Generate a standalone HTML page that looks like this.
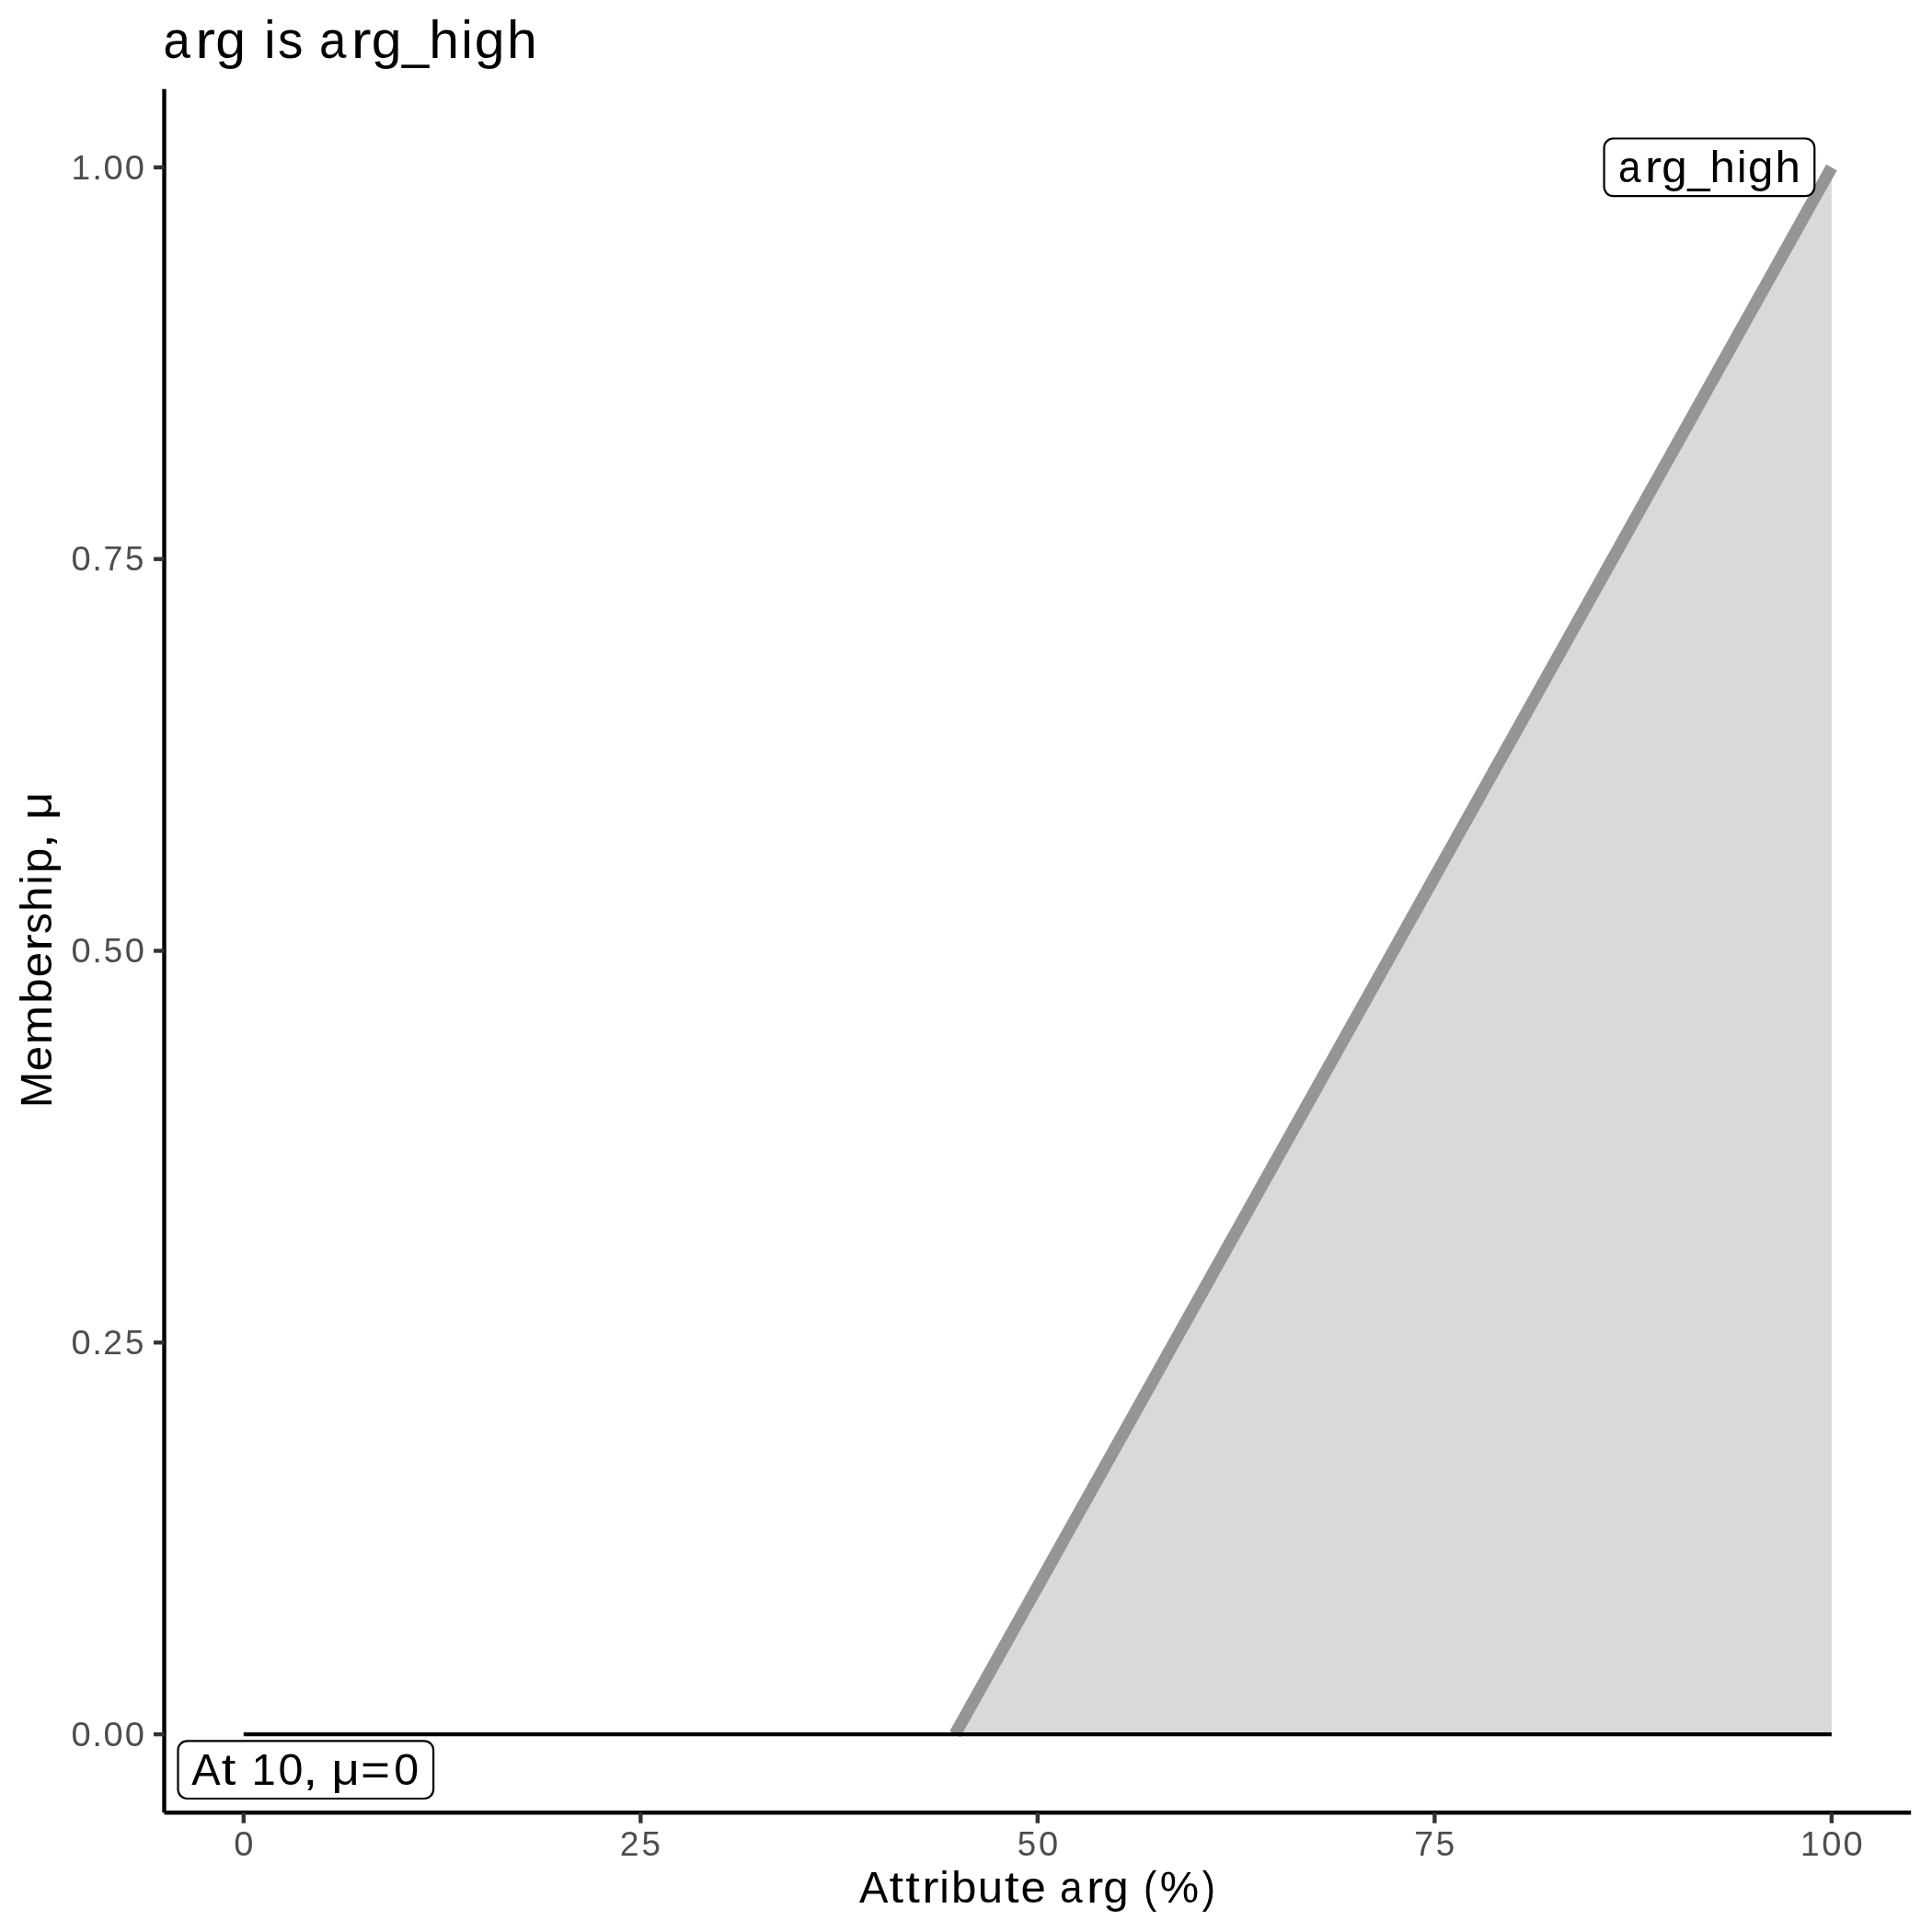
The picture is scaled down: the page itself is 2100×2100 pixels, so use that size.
<!DOCTYPE html>
<html><head><meta charset="utf-8">
<style>
html,body{margin:0;padding:0;background:#FFFFFF;}
svg{display:block;}
text{font-family:"Liberation Sans", sans-serif;}
svg{will-change:transform;}
</style></head><body>
<svg width="2100" height="2100" viewBox="0 0 2100 2100">
<rect x="0" y="0" width="2100" height="2100" fill="#FFFFFF"/>
<polygon points="1038.05,1885.10 1990.90,181.90 1990.90,1885.10" fill="#D9D9D9"/>
<line x1="1038.05" y1="1885.10" x2="1990.90" y2="181.90" stroke="#959595" stroke-width="13.3" stroke-linecap="butt"/>
<line x1="264.80" y1="1885.10" x2="1990.90" y2="1885.10" stroke="#000000" stroke-width="4.4" stroke-linecap="butt"/>
<rect x="1743.60" y="150.50" width="228.70" height="62.60" rx="10" ry="10" fill="#FFFFFF" stroke="#000000" stroke-width="2.2"/>
<text transform="translate(1758.85,198.30)" y="0" font-size="48.56" fill="#000000"><tspan x="0.12" textLength="24.56" lengthAdjust="spacingAndGlyphs">a</tspan><tspan x="29.13" textLength="18.20" lengthAdjust="spacingAndGlyphs">r</tspan><tspan x="47.50" textLength="27.42" lengthAdjust="spacingAndGlyphs">g</tspan><tspan x="75.34" textLength="24.44" lengthAdjust="spacingAndGlyphs">_</tspan><tspan x="99.78" textLength="27.41" lengthAdjust="spacingAndGlyphs">h</tspan><tspan x="129.09" textLength="10.56" lengthAdjust="spacingAndGlyphs">i</tspan><tspan x="141.28" textLength="27.42" lengthAdjust="spacingAndGlyphs">g</tspan><tspan x="170.65" textLength="27.41" lengthAdjust="spacingAndGlyphs">h</tspan></text>
<rect x="193.50" y="1892.30" width="277.60" height="62.70" rx="10" ry="10" fill="#FFFFFF" stroke="#000000" stroke-width="2.2"/>
<text transform="translate(208.34,1939.80)" y="0" font-size="48.56" fill="#000000"><tspan x="-0.05" textLength="31.43" lengthAdjust="spacingAndGlyphs">A</tspan><tspan x="32.38" textLength="15.61" lengthAdjust="spacingAndGlyphs">t</tspan><tspan x="49.32"> </tspan><tspan x="65.13" textLength="26.20" lengthAdjust="spacingAndGlyphs">1</tspan><tspan x="94.15" textLength="26.92" lengthAdjust="spacingAndGlyphs">0</tspan><tspan x="120.75" textLength="16.53" lengthAdjust="spacingAndGlyphs">,</tspan><tspan x="136.77"> </tspan><tspan x="152.28" textLength="30.36" lengthAdjust="spacingAndGlyphs">μ</tspan><tspan x="183.70" textLength="32.03" lengthAdjust="spacingAndGlyphs">=</tspan><tspan x="220.01" textLength="26.92" lengthAdjust="spacingAndGlyphs">0</tspan></text>
<line x1="178.50" y1="96.74" x2="178.50" y2="1970.26" stroke="#000000" stroke-width="4.4" stroke-linecap="butt"/>
<line x1="178.50" y1="1970.26" x2="2077.20" y2="1970.26" stroke="#000000" stroke-width="4.4" stroke-linecap="butt"/>
<line x1="167.03" y1="1885.10" x2="178.50" y2="1885.10" stroke="#333333" stroke-width="4.4"/>
<text transform="translate(76.45,1898.00)" y="0" font-size="37.30" fill="#4D4D4D"><tspan x="1.06" textLength="21.20" lengthAdjust="spacingAndGlyphs">0</tspan><tspan x="23.76" textLength="10.76" lengthAdjust="spacingAndGlyphs">.</tspan><tspan x="36.04" textLength="21.20" lengthAdjust="spacingAndGlyphs">0</tspan><tspan x="59.38" textLength="21.20" lengthAdjust="spacingAndGlyphs">0</tspan></text>
<line x1="167.03" y1="1459.30" x2="178.50" y2="1459.30" stroke="#333333" stroke-width="4.4"/>
<text transform="translate(76.45,1472.00)" y="0" font-size="37.30" fill="#4D4D4D"><tspan x="1.06" textLength="21.20" lengthAdjust="spacingAndGlyphs">0</tspan><tspan x="23.76" textLength="10.76" lengthAdjust="spacingAndGlyphs">.</tspan><tspan x="35.79" textLength="20.73" lengthAdjust="spacingAndGlyphs">2</tspan><tspan x="59.60" textLength="20.47" lengthAdjust="spacingAndGlyphs">5</tspan></text>
<line x1="167.03" y1="1033.50" x2="178.50" y2="1033.50" stroke="#333333" stroke-width="4.4"/>
<text transform="translate(76.45,1046.00)" y="0" font-size="37.30" fill="#4D4D4D"><tspan x="1.06" textLength="21.20" lengthAdjust="spacingAndGlyphs">0</tspan><tspan x="23.76" textLength="10.76" lengthAdjust="spacingAndGlyphs">.</tspan><tspan x="36.26" textLength="20.47" lengthAdjust="spacingAndGlyphs">5</tspan><tspan x="59.38" textLength="21.20" lengthAdjust="spacingAndGlyphs">0</tspan></text>
<line x1="167.03" y1="607.70" x2="178.50" y2="607.70" stroke="#333333" stroke-width="4.4"/>
<text transform="translate(76.45,620.00)" y="0" font-size="37.30" fill="#4D4D4D"><tspan x="1.06" textLength="21.20" lengthAdjust="spacingAndGlyphs">0</tspan><tspan x="23.76" textLength="10.76" lengthAdjust="spacingAndGlyphs">.</tspan><tspan x="36.11" textLength="20.92" lengthAdjust="spacingAndGlyphs">7</tspan><tspan x="59.60" textLength="20.47" lengthAdjust="spacingAndGlyphs">5</tspan></text>
<line x1="167.03" y1="181.90" x2="178.50" y2="181.90" stroke="#333333" stroke-width="4.4"/>
<text transform="translate(76.45,195.00)" y="0" font-size="37.30" fill="#4D4D4D"><tspan x="1.17" textLength="20.62" lengthAdjust="spacingAndGlyphs">1</tspan><tspan x="23.76" textLength="10.76" lengthAdjust="spacingAndGlyphs">.</tspan><tspan x="36.04" textLength="21.20" lengthAdjust="spacingAndGlyphs">0</tspan><tspan x="59.38" textLength="21.20" lengthAdjust="spacingAndGlyphs">0</tspan></text>
<line x1="264.80" y1="1970.26" x2="264.80" y2="1981.72" stroke="#333333" stroke-width="4.4"/>
<text transform="translate(253.13,2017.00)" y="0" font-size="37.30" fill="#4D4D4D"><tspan x="1.06" textLength="21.20" lengthAdjust="spacingAndGlyphs">0</tspan></text>
<line x1="696.33" y1="1970.26" x2="696.33" y2="1981.72" stroke="#333333" stroke-width="4.4"/>
<text transform="translate(672.99,2017.00)" y="0" font-size="37.30" fill="#4D4D4D"><tspan x="0.81" textLength="20.73" lengthAdjust="spacingAndGlyphs">2</tspan><tspan x="24.61" textLength="20.47" lengthAdjust="spacingAndGlyphs">5</tspan></text>
<line x1="1127.85" y1="1970.26" x2="1127.85" y2="1981.72" stroke="#333333" stroke-width="4.4"/>
<text transform="translate(1104.52,2017.00)" y="0" font-size="37.30" fill="#4D4D4D"><tspan x="1.28" textLength="20.47" lengthAdjust="spacingAndGlyphs">5</tspan><tspan x="24.39" textLength="21.20" lengthAdjust="spacingAndGlyphs">0</tspan></text>
<line x1="1559.38" y1="1970.26" x2="1559.38" y2="1981.72" stroke="#333333" stroke-width="4.4"/>
<text transform="translate(1536.04,2017.00)" y="0" font-size="37.30" fill="#4D4D4D"><tspan x="1.13" textLength="20.92" lengthAdjust="spacingAndGlyphs">7</tspan><tspan x="24.61" textLength="20.47" lengthAdjust="spacingAndGlyphs">5</tspan></text>
<line x1="1990.90" y1="1970.26" x2="1990.90" y2="1981.72" stroke="#333333" stroke-width="4.4"/>
<text transform="translate(1955.90,2017.00)" y="0" font-size="37.30" fill="#4D4D4D"><tspan x="1.17" textLength="20.62" lengthAdjust="spacingAndGlyphs">1</tspan><tspan x="24.39" textLength="21.20" lengthAdjust="spacingAndGlyphs">0</tspan><tspan x="47.72" textLength="21.20" lengthAdjust="spacingAndGlyphs">0</tspan></text>
<text transform="translate(177.41,62.70)" y="0" font-size="58.07" fill="#000000"><tspan x="0.15" textLength="29.36" lengthAdjust="spacingAndGlyphs">a</tspan><tspan x="34.83" textLength="21.76" lengthAdjust="spacingAndGlyphs">r</tspan><tspan x="56.79" textLength="32.79" lengthAdjust="spacingAndGlyphs">g</tspan><tspan x="90.90"> </tspan><tspan x="109.64" textLength="12.63" lengthAdjust="spacingAndGlyphs">i</tspan><tspan x="124.50" textLength="27.37" lengthAdjust="spacingAndGlyphs">s</tspan><tspan x="152.09"> </tspan><tspan x="169.66" textLength="29.36" lengthAdjust="spacingAndGlyphs">a</tspan><tspan x="204.34" textLength="21.76" lengthAdjust="spacingAndGlyphs">r</tspan><tspan x="226.30" textLength="32.79" lengthAdjust="spacingAndGlyphs">g</tspan><tspan x="259.60" textLength="29.23" lengthAdjust="spacingAndGlyphs">_</tspan><tspan x="288.82" textLength="32.77" lengthAdjust="spacingAndGlyphs">h</tspan><tspan x="323.86" textLength="12.63" lengthAdjust="spacingAndGlyphs">i</tspan><tspan x="338.45" textLength="32.79" lengthAdjust="spacingAndGlyphs">g</tspan><tspan x="373.56" textLength="32.77" lengthAdjust="spacingAndGlyphs">h</tspan></text>
<text transform="translate(934.03,2067.80)" y="0" font-size="48.56" fill="#000000"><tspan x="-0.05" textLength="31.43" lengthAdjust="spacingAndGlyphs">A</tspan><tspan x="32.38" textLength="15.61" lengthAdjust="spacingAndGlyphs">t</tspan><tspan x="50.35" textLength="15.61" lengthAdjust="spacingAndGlyphs">t</tspan><tspan x="68.33" textLength="18.20" lengthAdjust="spacingAndGlyphs">r</tspan><tspan x="87.24" textLength="10.56" lengthAdjust="spacingAndGlyphs">i</tspan><tspan x="99.96" textLength="27.44" lengthAdjust="spacingAndGlyphs">b</tspan><tspan x="128.74" textLength="27.29" lengthAdjust="spacingAndGlyphs">u</tspan><tspan x="158.03" textLength="15.61" lengthAdjust="spacingAndGlyphs">t</tspan><tspan x="175.50" textLength="27.32" lengthAdjust="spacingAndGlyphs">e</tspan><tspan x="203.17"> </tspan><tspan x="217.86" textLength="24.56" lengthAdjust="spacingAndGlyphs">a</tspan><tspan x="246.86" textLength="18.20" lengthAdjust="spacingAndGlyphs">r</tspan><tspan x="265.23" textLength="27.42" lengthAdjust="spacingAndGlyphs">g</tspan><tspan x="293.76"> </tspan><tspan x="309.09" textLength="14.21" lengthAdjust="spacingAndGlyphs">(</tspan><tspan x="326.79" textLength="42.38" lengthAdjust="spacingAndGlyphs">%</tspan><tspan x="372.65" textLength="14.21" lengthAdjust="spacingAndGlyphs">)</tspan></text>
<text transform="translate(55.90,1204.28) rotate(-90)" y="0" font-size="48.56" fill="#000000"><tspan x="0.27" textLength="39.02" lengthAdjust="spacingAndGlyphs">M</tspan><tspan x="40.07" textLength="27.32" lengthAdjust="spacingAndGlyphs">e</tspan><tspan x="69.04" textLength="42.28" lengthAdjust="spacingAndGlyphs">m</tspan><tspan x="113.48" textLength="27.44" lengthAdjust="spacingAndGlyphs">b</tspan><tspan x="142.00" textLength="27.32" lengthAdjust="spacingAndGlyphs">e</tspan><tspan x="170.71" textLength="18.20" lengthAdjust="spacingAndGlyphs">r</tspan><tspan x="189.32" textLength="22.89" lengthAdjust="spacingAndGlyphs">s</tspan><tspan x="213.24" textLength="27.41" lengthAdjust="spacingAndGlyphs">h</tspan><tspan x="242.54" textLength="10.56" lengthAdjust="spacingAndGlyphs">i</tspan><tspan x="255.27" textLength="27.44" lengthAdjust="spacingAndGlyphs">p</tspan><tspan x="281.81" textLength="16.53" lengthAdjust="spacingAndGlyphs">,</tspan><tspan x="297.83"> </tspan><tspan x="313.34" textLength="30.36" lengthAdjust="spacingAndGlyphs">μ</tspan></text>
</svg>
</body></html>
